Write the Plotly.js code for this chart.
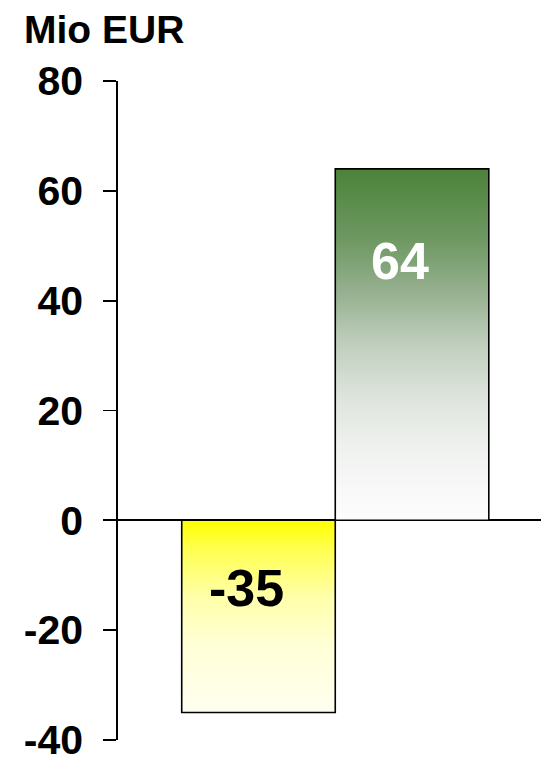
<!DOCTYPE html>
<html>
<head>
<meta charset="utf-8">
<script src="https://cdn.plot.ly/plotly-3.0.1.min.js"></script>
<style>
  html, body { margin: 0; padding: 0; background: #fff; }
  #chart { width: 541px; height: 760px; }
</style>
</head>
<body>
<div id="chart"></div>
<script>
// ---- data ----
const categories = ["A", "B"];
const values = [-35, 64];
const valueLabels = ["-35", "64"];
const labelColors = ["#000000", "#ffffff"];
const yTickValues = [-40, -20, 0, 20, 40, 60, 80];
const yTickLabels = ["-40", "-20", "0", "20", "40", "60", "80"];
const unitLabel = "Mio EUR";

// gradient colour ramps (bottom -> top of each bar)
const rampNegative = [[0, "rgb(255,255,240)"], [0.35, "rgb(255,255,215)"], [0.6, "rgb(255,255,170)"], [0.85, "rgb(255,255,80)"], [1, "rgb(255,255,0)"]];
const rampPositive = [[0, "rgb(253,253,253)"], [0.2, "rgb(240,242,240)"], [0.35, "rgb(222,228,221)"], [0.5, "rgb(192,207,189)"], [0.65, "rgb(150,176,143)"], [0.8, "rgb(110,152,98)"], [1, "rgb(75,131,57)"]];

const mainFont = "Liberation Sans, Arial, sans-serif";
const halfWidth = 0.5;

const traces = values.map((v, i) => {
  const x0 = i - halfWidth, x1 = i + halfWidth;
  return {
    type: "scatter",
    mode: "lines",
    x: [x0, x0, x1, x1, x0],
    y: [0, v, v, 0, 0],
    fill: "toself",
    fillgradient: {
      type: "vertical",
      colorscale: v < 0 ? rampNegative : rampPositive,
      start: Math.min(0, v),
      stop: Math.max(0, v)
    },
    line: { color: "#000000", width: 1.6 },
    hoverinfo: "skip",
    name: categories[i],
    showlegend: false
  };
});

const annotations = values.map((v, i) => ({
  x: i,
  y: v < 0 ? 0 : v,
  xref: "x", yref: "y",
  text: valueLabels[i],
  showarrow: false,
  xshift: -12,
  yshift: v < 0 ? -68 : -92,
  xanchor: "center", yanchor: "middle",
  font: { family: mainFont, size: 52, color: labelColors[i], weight: "bold" }
}));

const layout = {
  width: 541,
  height: 760,
  margin: { l: 118, r: 0, t: 81, b: 20 },
  paper_bgcolor: "#ffffff",
  plot_bgcolor: "rgba(0,0,0,0)",
  showlegend: false,
  title: {
    text: "<b>" + unitLabel + "</b>",
    x: 24 / 541, xanchor: "left", xref: "container",
    y: 1 - 29 / 760, yanchor: "middle", yref: "container",
    font: { family: mainFont, size: 39, color: "#000000" }
  },
  xaxis: {
    range: [-0.915, 1.84],
    showgrid: false, zeroline: false, showline: false,
    showticklabels: false, ticks: "", fixedrange: true
  },
  yaxis: {
    range: [-40.01, 80.01],
    tickvals: yTickValues,
    ticktext: yTickLabels,
    ticks: "outside", ticklen: 13, tickwidth: 1.8, tickcolor: "#000000",
    showline: true, linecolor: "#000000", linewidth: 1.8,
    showgrid: false,
    zeroline: true, zerolinecolor: "#000000", zerolinewidth: 1.8,
    ticklabelstandoff: 12,
    ticklabeloverflow: "allow",
    tickfont: { family: mainFont, size: 41, color: "#000000", weight: "bold" },
    fixedrange: true
  },
  annotations: annotations
};

Plotly.newPlot("chart", traces, layout, { displayModeBar: false, staticPlot: true });
</script>
</body>
</html>
